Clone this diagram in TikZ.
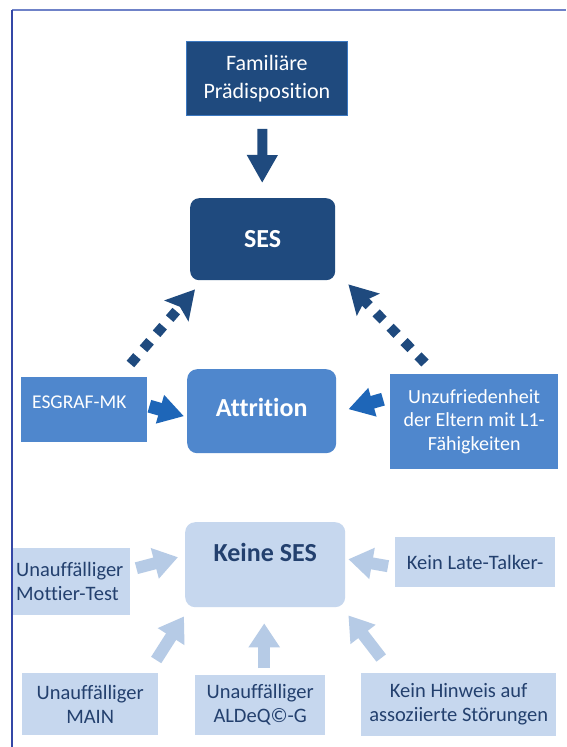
\documentclass[tikz,border=0pt]{standalone}
\usepackage{fontspec}
\setmainfont{Carlito}[Ligatures=NoCommon]
\usetikzlibrary{arrows.meta,calc}
\definecolor{navy}{HTML}{1F4A7E}
\definecolor{navyedge}{HTML}{3C78C0}
\definecolor{midblue}{HTML}{4F87CD}
\definecolor{arrblue}{HTML}{1E66B8}
\definecolor{lightfill}{HTML}{C6D7EE}
\definecolor{lightarr}{HTML}{B6CBE6}
\definecolor{darktext}{HTML}{23406E}
\definecolor{frametop}{HTML}{6F82C8}
\definecolor{frameleft}{HTML}{3447A6}
\begin{document}
\begin{tikzpicture}[x=1pt,y=-1pt,
  dims/.style 2 args={minimum width=#1pt, minimum height=#2pt},
  basebox/.style={rectangle, anchor=north west, inner sep=0pt, align=center},
  navybox/.style={basebox, fill=navy, text=white},
  midbox/.style={basebox, fill=midblue, text=white},
  lightbox/.style={basebox, fill=lightfill, text=darktext, font=\fontsize{20.5}{24}\selectfont},
  bigbold/.style={font=\fontsize{26}{30}\selectfont\bfseries},
  darkarrow/.style={draw=navy, line width=10pt, -{Triangle[length=28pt,width=29pt]}},
  dotarrow/.style={draw=navy, line width=10pt, dash pattern=on 10pt off 10pt, -{Stealth[length=28pt,width=31pt,inset=5pt]}},
  midarrow/.style={draw=arrblue, line width=13pt, -{Triangle[length=25pt,width=28pt]}},
  lightarrow/.style={draw=lightarr, line width=12pt, -{Triangle[length=24pt,width=30pt]}}
]
\useasboundingbox (0,0) rectangle (566,747);
\fill[white] (0,0) rectangle (566,747);
% frame
\draw[frametop, line width=1.5pt] (12,10) -- (566,10);
\draw[frameleft, line width=1.5pt] (12,10) -- (12,747);

% top part
\node[navybox, dims={161}{74}, draw=navyedge, line width=0.8pt, font=\fontsize{22}{28}\selectfont] (fam) at (186,41) {Familiäre\\Prädisposition};
\node[navybox, dims={145}{82}, rounded corners=9pt, bigbold] (ses) at (190,198) {SES};

% middle part
\node[midbox, rounded corners=10pt, bigbold, minimum width=149pt, text height=47pt, text depth=37pt] (attr) at (187,369) {Attrition};
\node[midbox, font=\fontsize{19.5}{24}\selectfont, text width=104pt, inner xsep=11pt, align=left, text height=31pt, text depth=34pt] (esg) at (21,377) {ESGRAF-MK};
\node[midbox, dims={168}{95}, font=\fontsize{20}{23.5}\selectfont] (unz) at (390,374) {Unzufriedenheit\\der Eltern mit L1-\\Fähigkeiten};

% lower part
\node[lightbox, rounded corners=10pt, minimum width=160pt, text height=39pt, text depth=46pt, font=\fontsize{26}{30}\selectfont\bfseries] (keine) at (185,522) {Keine SES};
\node[lightbox, minimum height=67pt, text width=111pt, inner xsep=3pt, align=left] (mot) at (13,548) {Unauffälliger\\Mottier-Test};
\node[lightbox, dims={160}{50}] (late) at (395,537) {Kein Late-Talker-};
\node[lightbox, dims={136}{62}] (main) at (22,673) {Unauffälliger\\MAIN};
\node[lightbox, dims={130}{60}] (ald) at (195,675) {Unauffälliger\\ALDeQ©-G};
\node[lightbox, dims={195}{63}] (hin) at (361,673) {Kein Hinweis auf\\assoziierte Störungen};

% arrows
\draw[darkarrow] ($(fam.south)+(-4.5,13)$) -- ($(ses.north)+(-0.5,-15)$);
\draw[dotarrow] ($(esg.north east)+(-17,-13)$) -- ($(ses.south west)+(5,9)$);
\draw[dotarrow] ($(unz.north west)+(35,-11)$) -- ($(ses.south east)+(13,4)$);
\draw[midarrow] ($(esg.east)+(2,-3.5)$) -- ($(attr.west)+(-3,5)$);
\draw[midarrow] ($(unz.west)+(-7,-22.5)$) -- ($(attr.east)+(12,-2)$);

\draw[lightarrow] ($(mot.east)+(6,-13.5)$) -- ($(keine.west)+(-7,-7.5)$);
\draw[lightarrow] ($(late.west)+(-7,4)$) -- ($(keine.east)+(3,-5.5)$);
\draw[lightarrow] ($(main.north)+(66,-13)$) -- ($(keine.south west)+(-1,9)$);
\draw[lightarrow] ($(ald.north)+(4,-7)$) -- ($(keine.south)+(-1,16)$);
\draw[lightarrow] ($(hin.north)+(-77.5,-15)$) -- ($(keine.south east)+(3,8)$);
\end{tikzpicture}
\end{document}
